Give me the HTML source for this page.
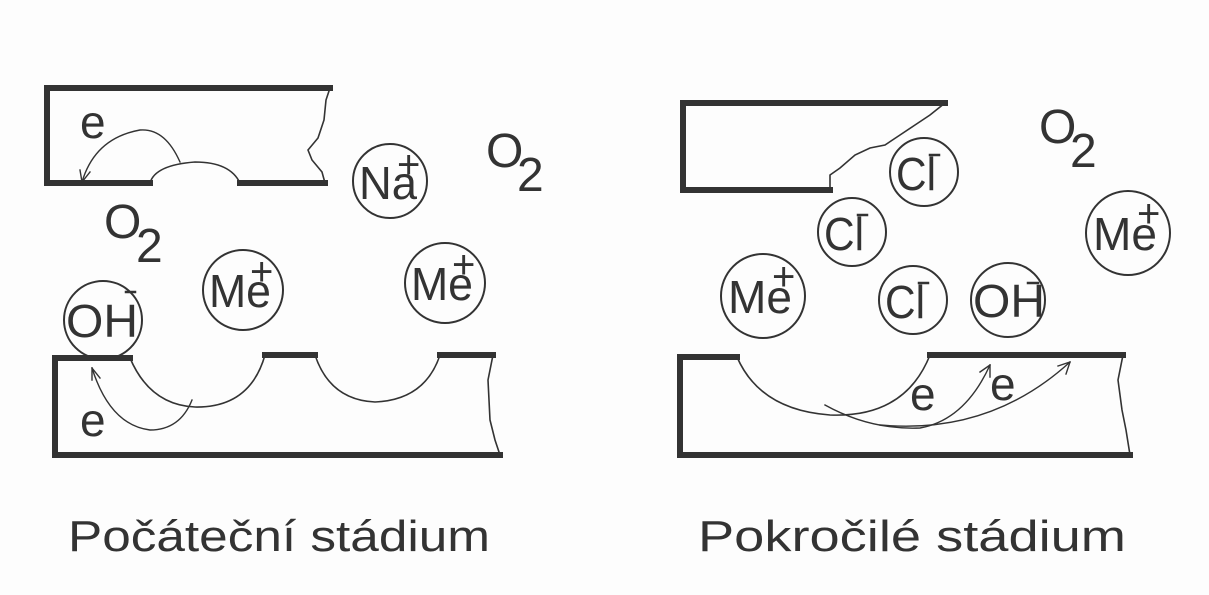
<!DOCTYPE html>
<html><head><meta charset="utf-8"><style>
html,body{margin:0;padding:0;background:#fff;}
svg{display:block;}
text{font-family:"Liberation Sans",sans-serif;fill:#333;}
</style></head><body>
<svg width="1209" height="595" viewBox="0 0 1209 595" xmlns="http://www.w3.org/2000/svg">
<rect width="1209" height="595" fill="#fdfdfd"/>
<g fill="none" stroke="#333" stroke-linecap="square">
<path d="M330,88 H47 V183 H150 M240,183 H325" stroke-width="6"/>
<path d="M150,183 Q155,165 195,162 Q230,162 240,183" stroke-width="1.6"/>
<path d="M330,88 L326,100 L324,120 L318,138 L308,150 L312,160 L322,172 L325,183" stroke-width="1.6"/>
<path d="M180,162 Q165,128 140,130 Q95,138 82,182" stroke-width="1.4"/>
<path d="M82,182 L80,170 M82,182 L90,172" stroke-width="1.4"/>
<path d="M130,358 H55 V455 H500 M265,355 H315 M440,355 H493" stroke-width="6"/>
<path d="M130,358 Q150,405 195,407 Q250,408 265,355" stroke-width="1.6"/>
<path d="M315,355 Q330,400 375,402 Q425,400 440,355" stroke-width="1.6"/>
<path d="M493,355 L488,380 L490,420 L495,440 L500,455" stroke-width="1.6"/>
<path d="M192,400 Q180,430 150,430 Q110,425 92,368" stroke-width="1.4"/>
<path d="M92,368 L92,380 M92,368 L100,378" stroke-width="1.4"/>
<path d="M945,103 H683 V190 H830" stroke-width="6"/>
<path d="M830,190 V175 L840,168 L855,155 L870,148 L885,145 L900,135 L915,125 L930,115 L945,103" stroke-width="1.6"/>
<path d="M737,357 H680 V455 H1130 M930,355 H1123" stroke-width="6"/>
<path d="M737,357 Q760,410 830,415 Q905,418 930,355" stroke-width="1.6"/>
<path d="M1123,355 L1118,380 L1122,410 L1126,430 L1130,455" stroke-width="1.6"/>
<path d="M825,405 Q870,430 920,428 Q965,420 990,365" stroke-width="1.4"/>
<path d="M990,365 L980,372 M990,365 L990,377" stroke-width="1.4"/>
<path d="M880,425 Q990,435 1070,362" stroke-width="1.4"/>
<path d="M1070,362 L1058,366 M1070,362 L1066,374" stroke-width="1.4"/>
<circle cx="390" cy="181" r="37" stroke-width="2"/>
<circle cx="103" cy="320" r="39" stroke-width="2"/>
<circle cx="243" cy="290" r="40" stroke-width="2"/>
<circle cx="445" cy="283" r="40" stroke-width="2"/>
<circle cx="924" cy="172" r="34" stroke-width="2"/>
<circle cx="852" cy="232" r="34" stroke-width="2"/>
<circle cx="913" cy="300" r="34" stroke-width="2"/>
<circle cx="763" cy="296" r="42" stroke-width="2"/>
<circle cx="1008" cy="300" r="37" stroke-width="2"/>
<circle cx="1128" cy="233" r="42" stroke-width="2"/>
<path d="M126,292 H135 M930,155 H939 M858,215 H867 M919,283 H928 M1028,283 H1038" stroke-width="2.5"/>
</g>
<g font-size="46">
<text x="80" y="138">e</text>
<text x="80" y="436">e</text>
<text x="104" y="238" font-size="48">O</text><text x="136" y="262" font-size="48">2</text>
<text x="486" y="167" font-size="48">O</text><text x="517" y="191" font-size="48">2</text>
<text x="1039" y="143" font-size="48">O</text><text x="1070" y="167" font-size="48">2</text>
<text x="359" y="199" textLength="58" lengthAdjust="spacingAndGlyphs">Na</text><text x="397" y="178" font-size="40">+</text>
<text x="66" y="337" textLength="72" lengthAdjust="spacingAndGlyphs">OH</text>
<text x="209" y="307" textLength="62" lengthAdjust="spacingAndGlyphs">Me</text><text x="250" y="285" font-size="40">+</text>
<text x="411" y="300" textLength="62" lengthAdjust="spacingAndGlyphs">Me</text><text x="452" y="278" font-size="40">+</text>
<text x="896" y="190" textLength="40" lengthAdjust="spacingAndGlyphs">Cl</text>
<text x="824" y="250" textLength="40" lengthAdjust="spacingAndGlyphs">Cl</text>
<text x="885" y="318" textLength="40" lengthAdjust="spacingAndGlyphs">Cl</text>
<text x="728" y="313" textLength="64" lengthAdjust="spacingAndGlyphs">Me</text><text x="772" y="290" font-size="40">+</text>
<text x="973" y="317" textLength="72" lengthAdjust="spacingAndGlyphs">OH</text>
<text x="1093" y="250" textLength="64" lengthAdjust="spacingAndGlyphs">Me</text><text x="1137" y="227" font-size="40">+</text>
<text x="910" y="410">e</text>
<text x="990" y="400">e</text>
</g>
<text x="68" y="551" font-size="44" textLength="422" lengthAdjust="spacingAndGlyphs">Počáteční stádium</text>
<text x="698" y="551" font-size="44" textLength="428" lengthAdjust="spacingAndGlyphs">Pokročilé stádium</text>
</svg>
</body></html>
